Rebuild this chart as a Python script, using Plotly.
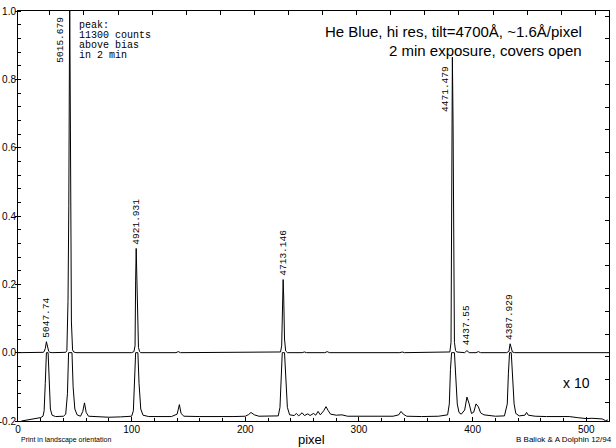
import plotly.graph_objects as go

# ---------------- data ----------------
# main spectrum (normalised counts)
main_x = [0, 20, 22, 23, 24, 25, 26, 27, 28, 30, 42, 43, 44, 44.7, 45.5, 46.3, 47, 48, 49, 51,
          100, 102, 103, 103.5, 104, 104.5, 105, 106, 107, 108, 139, 141, 143, 206, 208, 210,
          229, 231, 232, 232.8, 233.3, 233.8, 234.5, 235.5, 237, 250, 252, 254, 270, 272, 274,
          336, 338, 340, 378, 380, 381, 381.5, 382.2, 382.8, 383.3, 384, 385, 386, 393, 395, 397,
          403, 405, 407, 430, 432, 433, 434, 435, 437, 446, 448, 450, 520]
main_y = [0.0, 0.0, 0.001, 0.003, 0.012, 0.032, 0.020, 0.004, 0.001, 0.0, 0.001, 0.006, 0.15, 0.43, 1.05, 0.55, 0.09, 0.008, 0.002, 0.0,
          0.0, 0.003, 0.02, 0.21, 0.305, 0.23, 0.115, 0.015, 0.003, 0.0, 0.0, 0.003, 0.0, 0.0, 0.002, 0.0,
          0.0, 0.002, 0.02, 0.15, 0.214, 0.16, 0.04, 0.005, 0.0, 0.0, 0.002, 0.0, 0.0, 0.003, 0.0,
          0.0, 0.002, 0.0, 0.0, 0.002, 0.03, 0.45, 0.865, 0.67, 0.24, 0.03, 0.006, 0.002, 0.0, 0.006, 0.0,
          0.0, 0.003, 0.0, 0.0, 0.004, 0.026, 0.012, 0.002, 0.0, 0.0, 0.002, 0.0, 0.0]

# same spectrum x10, offset below (clipped at 0)
x10_x = [3, 8, 14, 20, 22, 23, 24, 25, 26.5, 27.5, 28.5, 30, 33, 40, 42, 43.5, 44.5, 47.5, 48.5, 50,
         52, 55, 57, 58.5, 60, 62, 70, 80, 90, 100, 101.5, 102.5, 103.5, 105.5, 106.5, 108, 110, 115,
         125, 135, 140, 142, 143.5, 146, 160, 175, 190, 200, 203, 205, 208, 212, 220, 229, 230.5,
         231.5, 232.5, 234.5, 235.5, 237, 239, 243, 245, 247, 250, 252, 255, 257, 260, 262, 264, 266,
         269, 271, 273, 275, 280, 285, 290, 300, 310, 320, 330, 335, 337, 339, 342, 355, 370, 378,
         379.5, 380.5, 381.5, 384, 385, 386.5, 388, 390, 393, 395, 397, 399, 401, 403, 405, 407, 410,
         415, 420, 428, 430.5, 431.5, 432.5, 434, 435, 436.5, 438, 441, 446, 447.5, 449, 455, 465,
         475, 485, 492, 500, 505, 510, 514, 517, 519]
x10_y = [-0.200, -0.197, -0.193, -0.190, -0.186, -0.170, -0.090, 0.0, 0.0, -0.100, -0.165, -0.183, -0.187, -0.186, -0.180, -0.120, 0.0, 0.0, -0.100, -0.165,
         -0.182, -0.186, -0.172, -0.147, -0.175, -0.186, -0.187, -0.189, -0.188, -0.186, -0.170, -0.090, 0.0, 0.0, -0.090, -0.165, -0.183, -0.187,
         -0.186, -0.187, -0.180, -0.152, -0.178, -0.186, -0.187, -0.188, -0.187, -0.186, -0.181, -0.175, -0.182, -0.186, -0.186, -0.185, -0.160,
         -0.060, 0.0, 0.0, -0.080, -0.160, -0.182, -0.184, -0.178, -0.185, -0.176, -0.184, -0.179, -0.184, -0.178, -0.183, -0.172, -0.182,
         -0.170, -0.158, -0.170, -0.180, -0.183, -0.182, -0.186, -0.186, -0.187, -0.187, -0.186, -0.182, -0.172, -0.180, -0.186, -0.187, -0.186, -0.182,
         -0.150, -0.050, 0.0, 0.0, -0.050, -0.150, -0.175, -0.180, -0.168, -0.130, -0.150, -0.178, -0.174, -0.150, -0.158, -0.176, -0.182,
         -0.185, -0.186, -0.185, -0.150, -0.060, 0.0, 0.0, -0.060, -0.150, -0.178, -0.185, -0.183, -0.175, -0.183, -0.186, -0.187,
         -0.188, -0.187, -0.190, -0.193, -0.192, -0.193, -0.194, -0.199, -0.197]

# identified lines (Angstrom) at pixel positions
line_labels = ["5047.74", "5015.679", "4921.931", "4713.146", "4471.479", "4437.55", "4387.929"]
line_pixels = [25.5, 45.5, 104, 233.3, 382.2, 394.5, 433]
line_heights = [0.032, 1.0, 0.305, 0.214, 0.865, 0.006, 0.026]

x_ticks = [0, 100, 200, 300, 400, 500]
y_ticks = [-0.2, 0.0, 0.2, 0.4, 0.6, 0.8, 1.0]

# ---------------- figure ----------------
BLACK = "black"
fig = go.Figure()
fig.add_trace(go.Scatter(x=main_x, y=main_y, mode="lines",
                         line=dict(color=BLACK, width=1), hoverinfo="skip"))
fig.add_trace(go.Scatter(x=x10_x, y=x10_y, mode="lines",
                         line=dict(color=BLACK, width=1), hoverinfo="skip"))
# carrier for the top/right tick-only axes
fig.add_trace(go.Scatter(x=[None], y=[None], xaxis="x2", yaxis="y2",
                         mode="lines", showlegend=False, hoverinfo="skip"))

tickfont = dict(family="Liberation Sans, Arial, sans-serif", size=10, color=BLACK)
mono = "Liberation Mono, Courier New, monospace"
sans = "Liberation Sans, Arial, sans-serif"

fig.update_layout(
    template="none",
    width=616, height=448,
    margin=dict(l=18, r=7, t=11, b=27, autoexpand=False),
    paper_bgcolor="white", plot_bgcolor="white",
    showlegend=False,
    xaxis=dict(range=[0, 520], tickvals=x_ticks, ticktext=[str(v) for v in x_ticks],
               ticks="inside", ticklen=4, tickcolor=BLACK, tickwidth=1,
               minor=dict(dtick=20, ticks="inside", ticklen=3, tickcolor=BLACK),
               showgrid=False, zeroline=False, showline=True, linecolor=BLACK, linewidth=1,
               tickfont=tickfont, ticklabelstandoff=-1, automargin=False),
    yaxis=dict(range=[-0.2, 1.0], tickvals=y_ticks, ticktext=["-0.2", "0.0", "0.2", "0.4", "0.6", "0.8", "1.0"],
               ticks="outside", ticklen=2, tickcolor=BLACK, tickwidth=1,
               minor=dict(dtick=0.04, tick0=0, ticks="inside", ticklen=3, tickcolor=BLACK),
               showgrid=False, zeroline=False, showline=True, linecolor=BLACK, linewidth=1,
               tickfont=tickfont, ticklabelstandoff=-3, automargin=False),
    xaxis2=dict(overlaying="x", side="top", range=[0, 520], tick0=28, dtick=30,
                ticks="inside", ticklen=4, tickcolor=BLACK, showticklabels=False,
                showgrid=False, zeroline=False, showline=True, linecolor=BLACK, linewidth=1,
                automargin=False),
    yaxis2=dict(overlaying="y", side="right", range=[0.172, 18.23], tick0=0, dtick=1,
                ticks="inside", ticklen=4, tickcolor=BLACK, showticklabels=False,
                showgrid=False, zeroline=False, showline=True, linecolor=BLACK, linewidth=1,
                automargin=False),
)

ann = []
# wavelength labels, rotated, sitting on top of each peak
for lab, px, h in zip(line_labels, line_pixels, line_heights):
    xs, ys = 0, 2
    y = h
    if lab == "5015.679":
        xs, y, ys = -9, 0.842, 0
    if lab == "4471.479":
        xs, y, ys = -7, 0.70, 0
    if lab == "4437.55":
        y, ys = 0.017, 0
    ann.append(dict(x=px, y=y, xref="x", yref="y", text=lab, showarrow=False,
                    textangle=-90, xanchor="center", yanchor="bottom",
                    xshift=xs, yshift=ys,
                    font=dict(family=mono, size=9.5, color=BLACK)))

peak_note = ["peak:", "11300 counts", "above bias", "in 2 min"]
for i, t in enumerate(peak_note):
    ann.append(dict(x=51.8, y=0.959 - 0.0293 * i, xref="x", yref="y", text=t, showarrow=False,
                    xanchor="left", yanchor="middle",
                    font=dict(family=mono, size=10, color=BLACK)))

title_lines = ["He Blue, hi res, tilt=4700Å, ~1.6Å/pixel", "2 min exposure, covers open"]
for i, t in enumerate(title_lines):
    ann.append(dict(x=498, y=0.9386 - 0.053 * i, xref="x", yref="y", text=t, showarrow=False,
                    xanchor="right", yanchor="middle",
                    font=dict(family=sans, size=15, color=BLACK)))

ann.append(dict(x=505, y=-0.089, xref="x", yref="y", text="x 10", showarrow=False,
                xanchor="right", yanchor="middle", font=dict(family=sans, size=14, color=BLACK)))

ann.append(dict(x=0.497, y=-0.046, xref="paper", yref="paper", text="pixel", showarrow=False,
                xanchor="center", yanchor="middle", font=dict(family=sans, size=13, color=BLACK)))
ann.append(dict(x=0.002, y=-0.046, xref="paper", yref="paper", text="Print in landscape orientation",
                showarrow=False, xanchor="left", yanchor="middle",
                font=dict(family=sans, size=7, color=BLACK)))
ann.append(dict(x=1.008, y=-0.046, xref="paper", yref="paper", text="B Baliok & A Dolphin 12/94",
                showarrow=False, xanchor="right", yanchor="middle",
                font=dict(family=sans, size=8, color=BLACK)))

fig.update_layout(annotations=ann)
fig.write_html("out.html", config={"displayModeBar": False, "staticPlot": True},
               post_script="document.body.style.margin='0';document.body.style.padding='0';")
